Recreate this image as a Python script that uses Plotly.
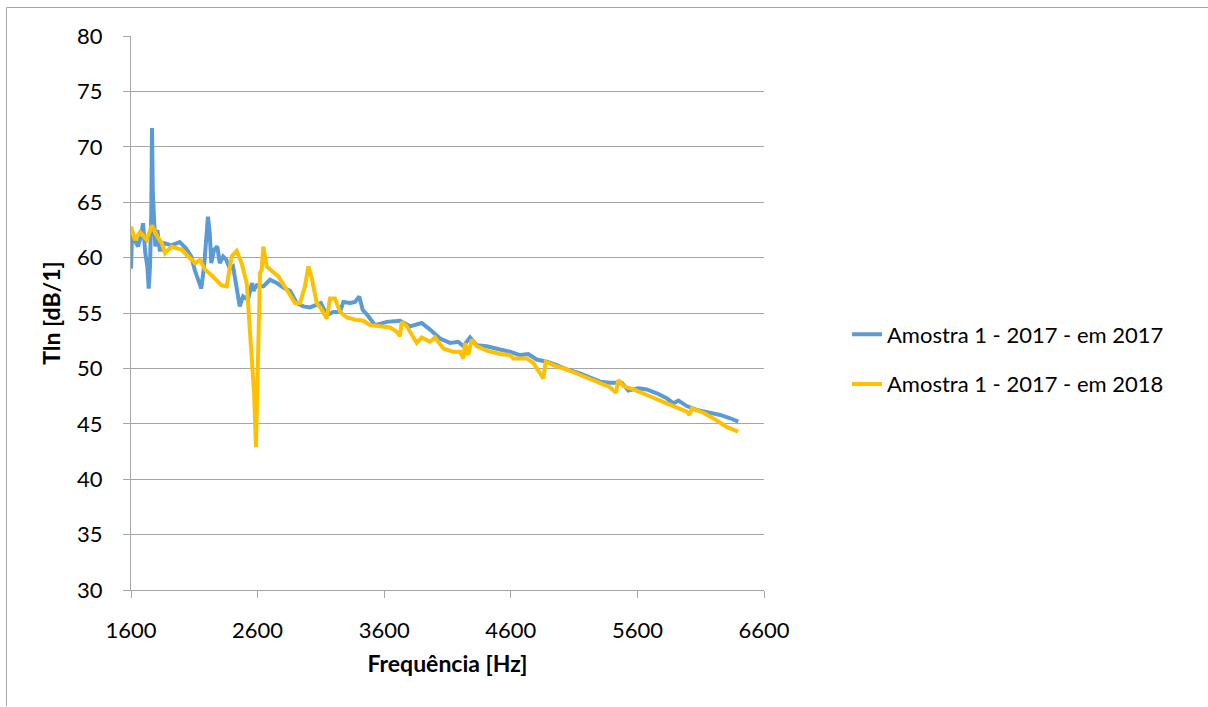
import plotly.graph_objects as go

# ---- data ----
freq_2017 = [1600, 1608, 1629, 1655, 1680, 1695, 1713, 1729, 1740, 1750, 1760, 1766, 1772, 1776,
             1792, 1808, 1827, 1840, 1866, 1918, 1985, 2037, 2076, 2103, 2129, 2155, 2177, 2195,
             2208, 2222, 2234, 2256, 2282, 2301, 2327, 2353, 2380, 2406, 2432, 2459, 2485, 2524,
             2556, 2566, 2593, 2645, 2698, 2751, 2803, 2856, 2909, 2961, 3014, 3067, 3100, 3146,
             3198, 3251, 3277, 3330, 3369, 3403, 3430, 3475, 3527, 3620, 3725, 3804, 3896, 3962,
             4041, 4120, 4185, 4225, 4278, 4331, 4410, 4515, 4594, 4673, 4738, 4804, 4884, 4963,
             5042, 5147, 5226, 5305, 5384, 5476, 5528, 5608, 5674, 5753, 5832, 5885, 5924, 5990,
             6069, 6175, 6254, 6333, 6397]
tln_2017 = [59.0, 62.0, 61.6, 61.0, 62.0, 63.1, 60.4, 59.2, 57.2, 59.2, 64.0, 71.7, 66.0, 64.6,
            61.0, 62.5, 60.7, 60.7, 61.3, 61.1, 61.4, 60.8, 60.1, 58.9, 58.0, 57.2, 59.2, 61.3,
            63.7, 62.2, 59.5, 60.7, 61.0, 59.5, 60.1, 59.8, 59.0, 59.2, 57.4, 55.6, 56.5, 56.2,
            57.7, 57.0, 57.5, 57.4, 58.0, 57.7, 57.3, 57.0, 55.9, 55.6, 55.5, 55.8, 55.9, 54.8,
            55.1, 55.1, 56.0, 55.9, 56.0, 56.5, 55.3, 54.7, 53.9, 54.2, 54.3, 53.8, 54.1, 53.5,
            52.7, 52.3, 52.4, 52.0, 52.8, 52.1, 52.0, 51.7, 51.5, 51.2, 51.3, 50.8, 50.6, 50.3,
            49.9, 49.55, 49.2, 48.8, 48.7, 48.7, 48.0, 48.2, 48.1, 47.75, 47.3, 46.85, 47.1, 46.6,
            46.25, 46.0, 45.8, 45.5, 45.2]

freq_2018 = [1600, 1632, 1671, 1724, 1764, 1803, 1843, 1869, 1921, 2000, 2053, 2106, 2145, 2185,
             2237, 2316, 2356, 2395, 2435, 2474, 2514, 2553, 2572, 2587, 2606, 2619, 2632, 2645,
             2672, 2711, 2764, 2830, 2895, 2935, 2974, 3001, 3027, 3067, 3106, 3146, 3172, 3211,
             3251, 3304, 3369, 3435, 3488, 3567, 3646, 3699, 3725, 3738, 3778, 3804, 3857, 3896,
             3962, 4001, 4067, 4146, 4199, 4225, 4238, 4264, 4291, 4331, 4410, 4515, 4594, 4620,
             4726, 4778, 4817, 4857, 4876, 4936, 5042, 5147, 5226, 5305, 5384, 5431, 5449, 5489,
             5568, 5674, 5779, 5885, 5990, 6011, 6030, 6122, 6228, 6307, 6397]
tln_2018 = [62.8, 61.6, 62.3, 61.6, 62.9, 62.0, 61.3, 60.4, 61.0, 60.7, 60.1, 59.5, 59.8, 58.9,
            58.4, 57.5, 57.4, 60.1, 60.6, 59.5, 57.7, 51.4, 47.8, 42.9, 52.9, 58.6, 58.9, 61.0,
            59.2, 58.8, 58.3, 57.1, 55.9, 55.9, 57.4, 59.2, 58.2, 55.9, 55.3, 54.5, 56.3, 56.3,
            55.1, 54.6, 54.4, 54.3, 53.9, 53.8, 53.7, 53.3, 52.9, 54.2, 53.8, 53.3, 52.3, 52.8,
            52.4, 52.8, 51.8, 51.5, 51.5, 50.9, 52.3, 51.2, 52.6, 52.0, 51.6, 51.3, 51.2, 50.9,
            50.9, 50.5, 49.8, 49.1, 50.6, 50.3, 49.9, 49.4, 49.1, 48.7, 48.3, 47.8, 48.95, 48.4,
            48.1, 47.6, 47.15, 46.6, 46.1, 45.8, 46.4, 46.0, 45.3, 44.7, 44.3]

series_names = ["Amostra 1 - 2017 - em 2017", "Amostra 1 - 2017 - em 2018"]
x_ticks = [1600, 2600, 3600, 4600, 5600, 6600]
y_ticks = [30, 35, 40, 45, 50, 55, 60, 65, 70, 75, 80]

FONT = "Lato"
fig = go.Figure()
fig.add_trace(go.Scatter(x=freq_2017, y=tln_2017, mode="lines", name=series_names[0],
                         legendgroup="a", line=dict(color="#5B9BD5", width=4)))
fig.add_trace(go.Scatter(x=freq_2018, y=tln_2018, mode="lines", name=series_names[1],
                         legendgroup="b", line=dict(color="#FFC000", width=4)))

axis_common = dict(showline=True, linecolor="#A6A6A6", linewidth=1, ticks="outside",
                   ticklen=7, tickcolor="#A6A6A6", zeroline=False,
                   tickfont=dict(family=FONT, size=22, color="#000000"))
fig.update_xaxes(range=[1600, 6600], tickvals=x_ticks, showgrid=False,
                 ticklabelstandoff=14,
                 title=dict(text="<b>Frequência [Hz]</b>", font=dict(family=FONT, size=23, color="#000"),
                            standoff=13),
                 **axis_common)
fig.update_yaxes(range=[30, 80], tickvals=y_ticks, showgrid=True, gridcolor="#A6A6A6",
                 gridwidth=1, ticklabelstandoff=16,
                 title=dict(text="<b>Tln [dB/1]</b>", font=dict(family=FONT, size=23, color="#000"),
                            standoff=10),
                 **axis_common)

L, R, T, B = 131, 444, 36, 117
W, H = 1208, 707
pw, ph = W - L - R, H - T - B
def px(x):
    return (x - L) / pw
def py(y):
    return (H - B - y) / ph

fig.update_layout(
    width=W, height=H,
    margin=dict(l=L, r=R, t=T, b=B),
    paper_bgcolor="white", plot_bgcolor="white",
    font=dict(family=FONT, size=22, color="#000"),
    legend=dict(x=px(847), y=py(359.5), xanchor="left", yanchor="middle",
                font=dict(family=FONT, size=22), tracegroupgap=18,
                traceorder="grouped", bgcolor="rgba(0,0,0,0)"),
    shapes=[
        dict(type="line", xref="paper", yref="paper", x0=px(6.5), x1=px(1208), y0=py(7.5), y1=py(7.5),
             line=dict(color="#A6A6A6", width=1)),
        dict(type="line", xref="paper", yref="paper", x0=px(6.5), x1=px(6.5), y0=py(7.5), y1=py(706),
             line=dict(color="#A6A6A6", width=1)),
    ],
)

fig.write_html("out.html", config={"displayModeBar": False},
               post_script="document.body.style.margin='0';document.body.style.overflow='hidden';")
